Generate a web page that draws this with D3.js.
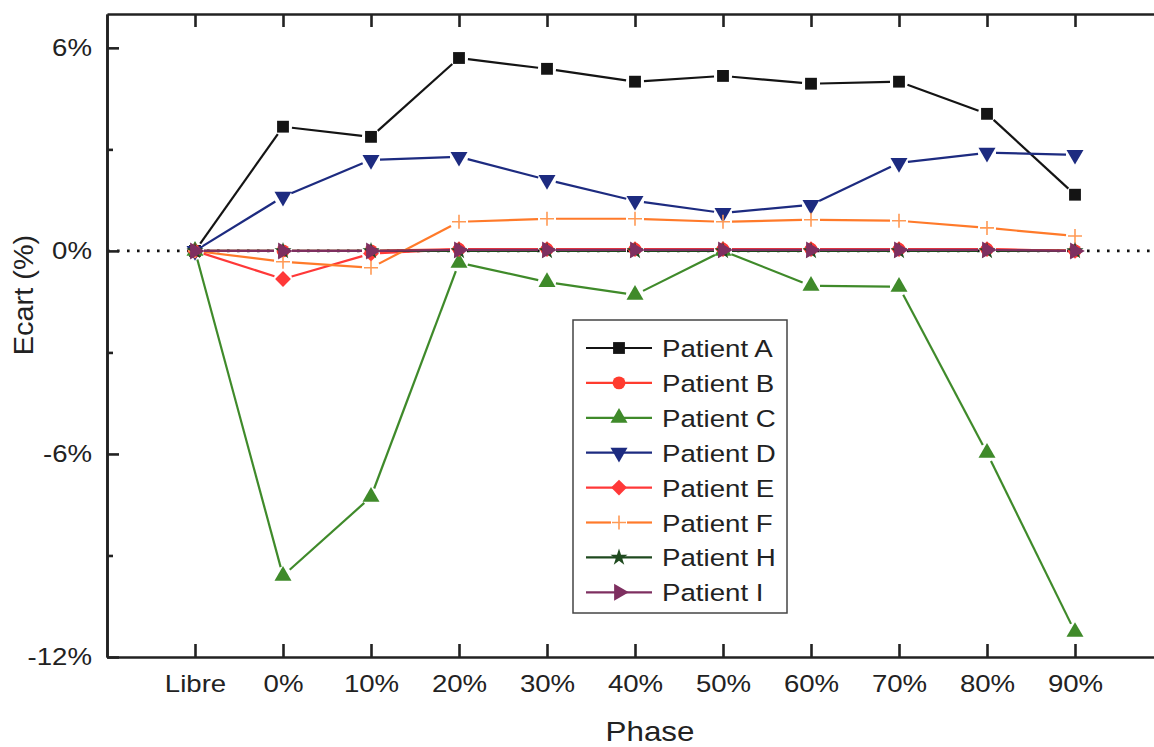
<!DOCTYPE html>
<html>
<head>
<meta charset="utf-8">
<script src="https://cdn.jsdelivr.net/npm/d3@7"></script>
<style>
  body { margin: 0; background: #fff; }
  text { font-family: "Liberation Sans", Arial, sans-serif; fill: #222; }
</style>
</head>
<body>
<script>
// categories and series
var phases = ["Libre", "0%", "10%", "20%", "30%", "40%", "50%", "60%", "70%", "80%", "90%"];
var patients = ["Patient A", "Patient B", "Patient C", "Patient D", "Patient E", "Patient F", "Patient H", "Patient I"];
var patientA = [0, 3.67, 3.37, 5.7, 5.38, 5.0, 5.17, 4.94, 5.0, 4.05, 1.66];
var patientB = [0, 0, 0, 0.05, 0.05, 0.05, 0.05, 0.05, 0.05, 0.05, 0];
var patientC = [0, -9.6, -7.27, -0.35, -0.92, -1.3, 0, -1.03, -1.06, -5.97, -11.26];
var patientD = [0, 1.6, 2.69, 2.78, 2.1, 1.48, 1.12, 1.36, 2.6, 2.9, 2.84];
var patientE = [0, -0.83, -0.08, 0.05, 0.05, 0.05, 0.05, 0.05, 0.05, 0.05, 0];
var patientF = [0, -0.32, -0.5, 0.86, 0.95, 0.95, 0.86, 0.92, 0.89, 0.68, 0.44];
var patientH = [0, 0, 0, 0, 0, 0, 0, 0, 0, 0, 0];
var patientI = [0, 0, 0, 0.03, 0.03, 0.03, 0.03, 0.03, 0.03, 0.03, 0];
var yMajorTicks = [-12, -6, 0, 6];
var yMinorTicks = [-9, -3, 3];

var allValues = [patientA, patientB, patientC, patientD, patientE, patientF, patientH, patientI];
var colors = ["#141414", "#ff3b2e", "#3f8a2a", "#1d2b80", "#ff3838", "#ff7a2a", "#1f4a1f", "#7e2f60"];
var markers = ["square", "circle", "triangleUp", "triangleDown", "diamond", "plus", "star", "triangleRight"];

var W = 1154, H = 747;
var svg = d3.select("body").append("svg")
    .attr("width", W)
    .attr("height", H);

var x = d3.scaleLinear().domain([-1, 11]).range([107, 1163]);
var y = d3.scaleLinear().domain([-12, 7]).range([657, 14]);

function markerPath(kind) {
    if (kind == "square") return d3.symbol(d3.symbolSquare, 140)();
    if (kind == "circle") return d3.symbol(d3.symbolCircle, 130)();
    if (kind == "triangleUp" || kind == "triangleDown" || kind == "triangleRight") return d3.symbol(d3.symbolTriangle, 125)();
    if (kind == "diamond") return d3.symbol(d3.symbolSquare, 125)();
    if (kind == "star") return d3.symbol(d3.symbolStar, 90)();
    return "M-7,0H7M0,-7V7";
}
function markerRotate(kind) {
    if (kind == "triangleDown") return 180;
    if (kind == "triangleRight") return 90;
    if (kind == "diamond") return 45;
    return 0;
}
function drawMarker(g, kind, color, cx, cy) {
    var m = g.append("path")
        .attr("d", markerPath(kind))
        .attr("transform", "translate(" + cx + "," + cy + ") rotate(" + markerRotate(kind) + ")");
    if (kind == "plus") {
        m.attr("fill", "none").attr("stroke", "#ff9a55").attr("stroke-width", 1.6);
    } else {
        m.attr("fill", color);
    }
}

// zero reference line
svg.append("line")
    .attr("x1", 107).attr("x2", W)
    .attr("y1", y(0)).attr("y2", y(0))
    .attr("stroke", "#111")
    .attr("stroke-width", 2.6)
    .attr("stroke-dasharray", "2.6,7.4");

// series: segments with small gaps at the markers
var line = d3.line();
var gap = 9;
allValues.forEach(function (vals, s) {
    var g = svg.append("g");
    var pts = vals.map(function (v, i) { return [x(i), y(v)]; });
    for (var i = 0; i < pts.length - 1; i++) {
        var a = pts[i], b = pts[i + 1];
        var dx = b[0] - a[0], dy = b[1] - a[1];
        var len = Math.sqrt(dx * dx + dy * dy);
        if (len < 2 * gap) continue;
        var ux = dx / len, uy = dy / len;
        g.append("path")
            .attr("d", line([[a[0] + ux * gap, a[1] + uy * gap], [b[0] - ux * gap, b[1] - uy * gap]]))
            .attr("fill", "none")
            .attr("stroke", colors[s])
            .attr("stroke-width", 2.2);
    }
    pts.forEach(function (p) { drawMarker(g, markers[s], colors[s], p[0], p[1]); });
});

// axes
var xAxis = svg.append("g")
    .attr("transform", "translate(0," + y(-12) + ")")
    .call(d3.axisBottom(x)
        .tickValues(d3.range(0, phases.length))
        .tickFormat(function (i) { return phases[i]; })
        .tickSizeInner(-13)
        .tickSizeOuter(0)
        .tickPadding(19));

var xTop = svg.append("g")
    .attr("transform", "translate(0," + y(7) + ")")
    .call(d3.axisTop(x)
        .tickValues(d3.range(0, phases.length))
        .tickFormat("")
        .tickSizeInner(-13)
        .tickSizeOuter(0));

var yAxis = svg.append("g")
    .attr("transform", "translate(" + x(-1) + ",0)")
    .call(d3.axisLeft(y)
        .tickValues(yMajorTicks)
        .tickFormat(function (d) { return d + "%"; })
        .tickSizeInner(-12)
        .tickSizeOuter(0)
        .tickPadding(15));

var yMinor = svg.append("g")
    .attr("transform", "translate(" + x(-1) + ",0)")
    .call(d3.axisLeft(y)
        .tickValues(yMinorTicks)
        .tickFormat("")
        .tickSizeInner(-6)
        .tickSizeOuter(0));

[xAxis, xTop, yAxis, yMinor].forEach(function (ax) {
    ax.selectAll("path.domain").attr("stroke", "#222").attr("stroke-width", 2.6);
    ax.selectAll(".tick line").attr("stroke", "#222").attr("stroke-width", 2.6);
});
xAxis.selectAll("text")
    .attr("font-family", "Liberation Sans, Arial, sans-serif")
    .attr("font-size", 23)
    .attr("fill", "#222")
    .attr("transform", "scale(1.2,1)");
yAxis.selectAll("text")
    .attr("font-family", "Liberation Sans, Arial, sans-serif")
    .attr("font-size", 23)
    .attr("fill", "#222")
    .attr("x", 0)
    .attr("transform", "translate(-15,0) scale(1.2,1)");

// axis titles
svg.append("text")
    .attr("transform", "translate(650,741) scale(1.12,1)")
    .attr("text-anchor", "middle")
    .attr("font-size", 28)
    .text("Phase");

svg.append("text")
    .attr("transform", "translate(33,295) rotate(-90) scale(1.07,1)")
    .attr("text-anchor", "middle")
    .attr("font-size", 27)
    .text("Ecart (%)");

// legend
var legend = svg.append("g");
legend.append("rect")
    .attr("x", 573).attr("y", 320)
    .attr("width", 214).attr("height", 293)
    .attr("fill", "#fff")
    .attr("stroke", "#444")
    .attr("stroke-width", 1.5);

patients.forEach(function (name, s) {
    var ry = 348 + s * 34.9;
    var row = legend.append("g");
    if (markers[s] == "plus") {
        row.append("path").attr("d", line([[586, ry], [611, ry]])).attr("stroke", colors[s]).attr("stroke-width", 2.2);
        row.append("path").attr("d", line([[627, ry], [652, ry]])).attr("stroke", colors[s]).attr("stroke-width", 2.2);
    } else {
        row.append("path").attr("d", line([[586, ry], [652, ry]])).attr("stroke", colors[s]).attr("stroke-width", 2.2);
    }
    drawMarker(row, markers[s], colors[s], 619, ry);
    row.append("text")
        .attr("transform", "translate(662," + (ry + 9) + ") scale(1.13,1)")
        .attr("font-size", 24.5)
        .text(name);
});
</script>
</body>
</html>
